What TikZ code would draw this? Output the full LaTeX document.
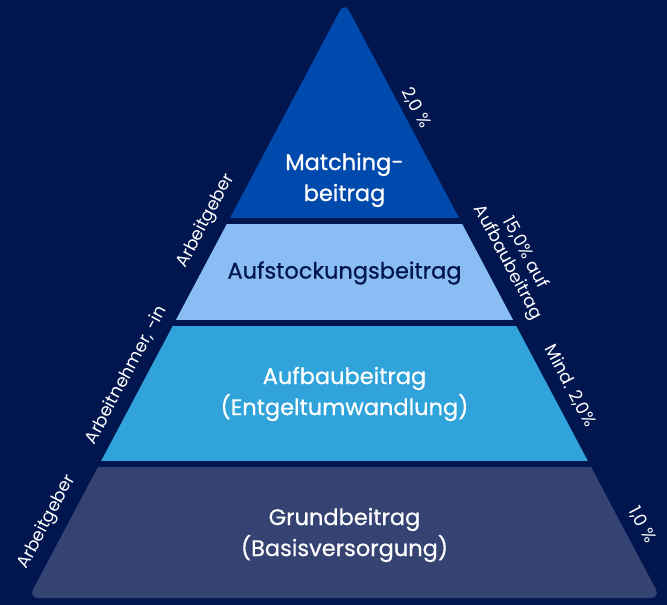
\documentclass[tikz,border=0pt]{standalone}
\usepackage{fontspec}
\setmainfont{Poppins}
\newfontfamily\medfont[FakeBold=0.6]{Poppins}
\usetikzlibrary{positioning}
\definecolor{navy}{HTML}{01154F}
\definecolor{matchblue}{HTML}{004AAD}
\definecolor{lightblue}{HTML}{8ABDF4}
\definecolor{midblue}{HTML}{30A3DB}
\definecolor{slate}{HTML}{344372}

\begin{document}
\begin{tikzpicture}[x=1pt,y=-1pt,
	layertext/.style={align=center,font=\medfont\fontsize{22.5}{31}\selectfont,text=white},
	sidetext/.style={align=center,font=\fontsize{17.5}{20}\selectfont,text=white,inner sep=1pt}]
	\useasboundingbox (0,0) rectangle (667,605);
	\fill[navy] (0,0) rectangle (667,605);
	% pyramid, cut into four layers
	\begin{scope}
	\clip[rounded corners=10pt] (344.5,2) -- (28.5,598) -- (660.5,598) -- cycle;
	\fill[matchblue] (0,0) rectangle (667,218);
	\fill[lightblue] (0,224) rectangle (667,320);
	\fill[midblue] (0,326) rectangle (667,461);
	\fill[slate] (0,467) rectangle (667,605);
	\end{scope}
	\node[layertext] (match) at (344.5,180) {Matching-\\beitrag};
	\node[layertext,text=navy] (aufst) at (344.5,273) {Aufstockungsbeitrag};
	\node[layertext] (aufbau) at (344.5,394) {Aufbaubeitrag\\(Entgeltumwandlung)};
	\node[layertext] (grund) at (344.5,535) {Grundbeitrag\\(Basisversorgung)};
	% left side: who pays
	\node[sidetext,rotate=62] (agunten) at (47,522) {Arbeitgeber};
	\node[sidetext,rotate=62] (an) at (126,375) {Arbeitnehmer, -in};
	\node[sidetext,rotate=62] (agoben) at (206,221) {Arbeitgeber};
	% right side: rates
	\node[sidetext,rotate=-62] (satzmatch) at (416,108) {2,0 \%};
	\node[sidetext,rotate=-62] (satzaufst) at (516,258) {15,0\% auf\\Aufbaubeitrag};
	\node[sidetext,rotate=-62] (satzaufbau) at (570,386) {Mind. 2,0\%};
	\node[sidetext,rotate=-62] (satzgrund) at (642,525) {1,0 \%};
\end{tikzpicture}
\end{document}
